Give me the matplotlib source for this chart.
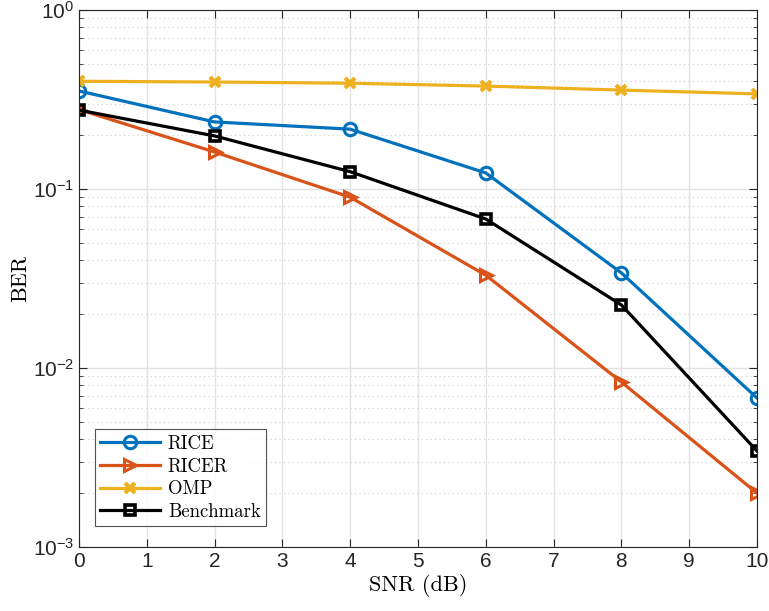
import matplotlib.pyplot as plt
from matplotlib.ticker import LogLocator, NullFormatter

plt.rcParams['mathtext.fontset'] = 'custom'
plt.rcParams['mathtext.rm'] = 'Liberation Sans'
plt.rcParams['mathtext.it'] = 'Liberation Sans'

snr = [0, 2, 4, 6, 8, 10]
ber_rice = [0.353, 0.237, 0.216, 0.123, 0.034, 0.0068]
ber_ricer = [0.278, 0.161, 0.090, 0.033, 0.00835, 0.0020]
ber_omp = [0.40, 0.396, 0.39, 0.376, 0.357, 0.34]
ber_bench = [0.276, 0.198, 0.125, 0.068, 0.0225, 0.00344]

fig = plt.figure(figsize=(7.69, 6.11), dpi=100)
ax = fig.add_axes([0.1027, 0.1047, 0.8817, 0.8789])

lw = 2.3
ax.semilogy(snr, ber_rice, '-o', color='#0072BD', lw=lw, ms=9, mew=2.2, mfc='none', label='RICE')
ax.semilogy(snr, ber_ricer, '->', color='#D95319', lw=lw, ms=9, mew=2.2, mfc='none', label='RICER')
ax.semilogy(snr, ber_omp, '-x', color='#EDB120', lw=lw, ms=7, mew=3, label='OMP')
ax.semilogy(snr, ber_bench, '-s', color='black', lw=lw, ms=7, mew=2.6, mfc='none', label='Benchmark')

ax.set_xlim(0, 10)
ax.set_ylim(1e-3, 1)
ax.set_xticks(range(11))
ax.yaxis.set_major_locator(LogLocator(base=10, numticks=10))
ax.yaxis.set_minor_locator(LogLocator(base=10, subs=range(2, 10), numticks=10))
ax.yaxis.set_minor_formatter(NullFormatter())

ax.grid(True, which='major', color='#e3e3e3', lw=1)
ax.grid(True, which='minor', axis='y', color='#d0d0d0', lw=0.8, ls=(0, (1, 3)))
ax.set_axisbelow(True)
ax.tick_params(which='both', direction='in', top=True, right=True, labelsize=15, colors='#262626')
ax.tick_params(which='major', length=6)
ax.tick_params(which='minor', length=3)
for lab in ax.get_xticklabels() + ax.get_yticklabels():
    lab.set_family('Liberation Sans')
for s in ax.spines.values():
    s.set_color('#262626')
    s.set_linewidth(0.8)

ax.set_xlabel('SNR (dB)', family='cmr10', fontsize=16, labelpad=2)
ax.set_ylabel('BER', family='cmr10', fontsize=16, labelpad=2)

leg = ax.legend(loc='lower left', bbox_to_anchor=(0.015, 0.028), prop={'family': 'cmr10', 'size': 13.5},
                fancybox=False, edgecolor='#262626', handlelength=3.2, handletextpad=0.4,
                borderpad=0.3, labelspacing=0.25, borderaxespad=0.3)
leg.get_frame().set_linewidth(0.8)

plt.savefig('out.png')
